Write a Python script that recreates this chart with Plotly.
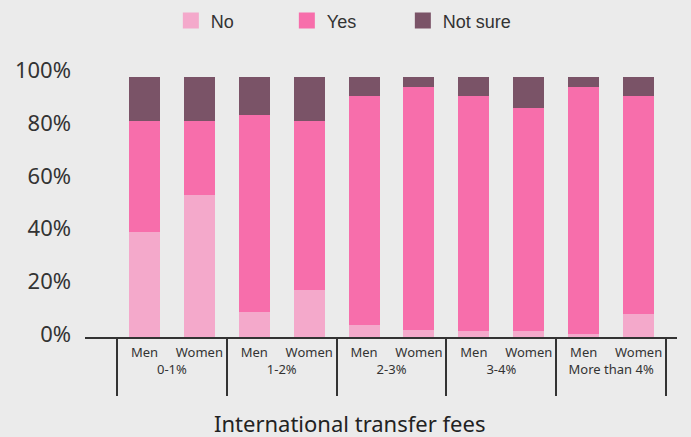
import plotly.graph_objects as go

groups = ["0-1%", "0-1%", "1-2%", "1-2%", "2-3%", "2-3%", "3-4%", "3-4%",
          "More than 4%", "More than 4%"]
genders = ["Men", "Women"] * 5

no_vals = [40.0, 54.0, 9.3, 18.0, 4.7, 2.8, 2.1, 2.1, 1.3, 8.9]
yes_vals = [41.8, 27.8, 75.1, 63.8, 86.6, 91.9, 89.2, 84.8, 93.4, 82.4]
notsure_vals = [16.7, 16.7, 14.1, 16.7, 7.2, 3.8, 7.2, 11.6, 3.8, 7.2]

series = [("No", no_vals, "#F4A9CB"), ("Yes", yes_vals, "#F76EAB"),
          ("Not sure", notsure_vals, "#7A5367")]

y_ticks = [0, 20, 40, 60, 80, 100]
y_labels = ["0%", "20%", "40%", "60%", "80%", "100%"]

# group labels get an empty second line so the dividers reach further down
group_axis = [g + "<br>&nbsp;" for g in groups]

fig = go.Figure()
for name, vals, col in series:
    fig.add_trace(go.Bar(x=[group_axis, genders], y=vals, name=name,
                         legendgroup=name, showlegend=False,
                         marker=dict(color=col, line=dict(width=0))))
# legend keys (larger square swatches), on hidden overlaying axes
for name, vals, col in series:
    fig.add_trace(go.Scatter(x=[None], y=[None], name=name, mode="markers",
                             legendgroup=name, xaxis="x2", yaxis="y2",
                             hoverinfo="skip",
                             marker=dict(symbol="square", size=16, color=col,
                                         line=dict(width=0))))

fig.update_layout(
    width=691, height=437,
    barmode="stack", bargap=0.435,
    paper_bgcolor="#EBEBEB", plot_bgcolor="#EBEBEB",
    margin=dict(l=85, r=14, t=60, b=100, autoexpand=False),
    font=dict(family="Noto Sans", color="#333333"),
    legend=dict(orientation="h", traceorder="normal",
                x=0.145, y=1.208, xanchor="left", yanchor="top",
                font=dict(family="Liberation Sans", size=18, color="#333333"),
                entrywidth=71, entrywidthmode="pixels",
                bgcolor="rgba(0,0,0,0)"),
    xaxis=dict(range=[-1.083, 9.70], showline=True, linecolor="#333333",
               linewidth=1.5, ticks="", showgrid=False, zeroline=False,
               tickangle=0, ticklabelstandoff=3,
               showdividers=True, dividercolor="#333333", dividerwidth=1.5,
               tickfont=dict(size=13, color="#333333")),
    yaxis=dict(range=[0, 105.1], tickvals=y_ticks, ticktext=y_labels,
               showgrid=False, zeroline=False, showline=False, ticks="",
               ticklabelstandoff=13, ticklabelshift=-3,
               tickfont=dict(size=22, color="#333333")),
    xaxis2=dict(visible=False, overlaying="x", range=[0, 1]),
    yaxis2=dict(visible=False, overlaying="y", range=[0, 1]),
    annotations=[dict(text="International transfer fees", xref="paper",
                      yref="paper", x=0.447, y=-0.312, xanchor="center",
                      yanchor="middle", showarrow=False,
                      font=dict(size=22, color="#222222"))],
)

fig.write_html("out.html", config={"displayModeBar": False},
               post_script="document.body.style.margin='0';"
                           "document.body.style.background='#EBEBEB';")
